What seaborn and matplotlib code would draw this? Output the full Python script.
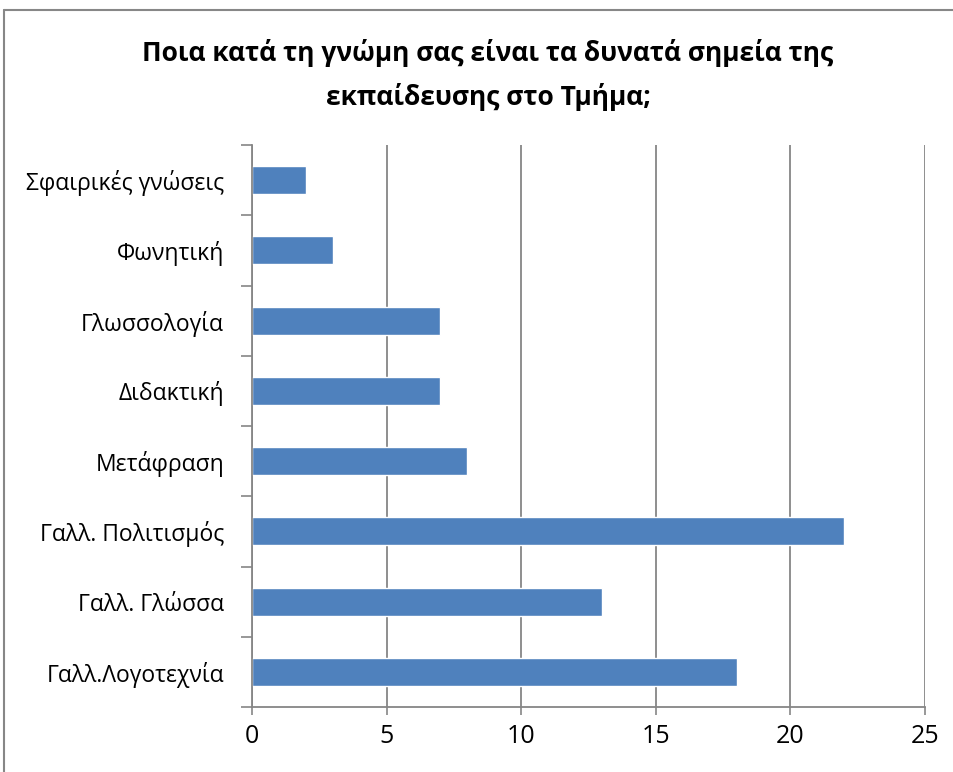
import matplotlib
matplotlib.use("Agg")
import matplotlib.pyplot as plt
import seaborn as sns
import pandas as pd
from matplotlib.lines import Line2D

categories = ["Σφαιρικές γνώσεις", "Φωνητική", "Γλωσσολογία", "Διδακτική",
              "Μετάφραση", "Γαλλ. Πολιτισμός", "Γαλλ. Γλώσσα", "Γαλλ.Λογοτεχνία"]
values = [2, 3, 7, 7, 8, 22, 13, 18]
xticks = [0, 5, 10, 15, 20, 25]
title = "Ποια κατά τη γνώμη σας είναι τα δυνατά σημεία της\nεκπαίδευσης στο Τμήμα;"

sns.set_theme(style="white")
plt.rcParams["font.family"] = ["Open Sans", "DejaVu Sans"]
plt.rcParams["text.color"] = "black"

W, H = 954, 772
fig = plt.figure(figsize=(W / 100, H / 100), dpi=100)
ax = fig.add_axes([252 / W, 1 - 707 / H, (925 - 252) / W, (707 - 145) / H])

df = pd.DataFrame({"cat": categories, "val": values})
sns.barplot(data=df, y="cat", x="val", order=categories, orient="h",
            color="#4F81BD", saturation=1, width=0.4, ax=ax)

gray = "#868686"
ax.set_xlim(0, 25)
ax.set_ylim(len(categories) - 0.5, -0.5)
ax.set_xticks(xticks)
ax.set_xticklabels([str(t) for t in xticks], fontsize=18, color="black")
ax.set_yticks(range(len(categories)))
ax.set_yticklabels(categories, fontsize=16.5, color="black")
ax.set_yticks([i - 0.5 for i in range(len(categories) + 1)], minor=True)
ax.tick_params(axis="y", which="major", length=0, pad=20)
ax.tick_params(axis="y", which="minor", length=8, width=1.2, color=gray, direction="out", left=True)
ax.tick_params(axis="x", which="major", length=6, width=1.2, color=gray, direction="out",
               bottom=True, pad=6)
ax.set_xlabel("")
ax.set_ylabel("")
ax.grid(axis="x", color=gray, linewidth=1.3)
ax.grid(axis="y", visible=False)
ax.set_axisbelow(True)
for s in ["top", "right"]:
    ax.spines[s].set_visible(False)
for s in ["left", "bottom"]:
    ax.spines[s].set_color(gray)
    ax.spines[s].set_linewidth(1.3)

fig.text(488 / W, 1 - 75 / H, title, ha="center", va="center", fontsize=19,
         fontweight="bold", linespacing=1.7, color="black")

# outer chart frame
fig.add_artist(Line2D([4 / W, 4 / W], [0, 1 - 10 / H], transform=fig.transFigure,
                      color="#878787", linewidth=1.5))
fig.add_artist(Line2D([4 / W, 1], [1 - 10 / H, 1 - 10 / H], transform=fig.transFigure,
                      color="#878787", linewidth=1.5))

fig.savefig("out.png", dpi=100)
